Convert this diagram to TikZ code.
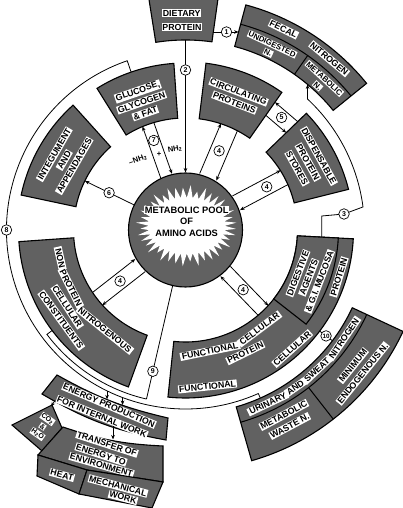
\documentclass[tikz,border=0pt]{standalone}
\usepackage{fontspec}
\setmainfont{Liberation Sans}
\usetikzlibrary{arrows.meta,calc}
\newcommand{\lblfont}{\fontsize{8.8}{9}\selectfont\bfseries}
\newcommand{\lblsmall}{\fontsize{7.8}{8}\selectfont\bfseries}
\newcommand{\lbltiny}{\fontsize{7}{7}\selectfont\bfseries}
\newcommand{\sectorbox}[5][box]{%
  \draw[#1] (#2:#4) arc[start angle=#2,end angle=#3,radius=#4pt] -- (#3:#5) arc[start angle=#3,end angle=#2,radius=#5pt] -- cycle;}
\newcommand{\pairarrows}[4]{%
  \draw[arr] ([shift={(#1+90:#2)}]#1:#3) -- ([shift={(#1+90:#2)}]#1:#4);
  \draw[arr] ([shift={(#1-90:#2)}]#1:#4) -- ([shift={(#1-90:#2)}]#1:#3);}
\begin{document}
\begin{tikzpicture}[x=1pt,y=1pt,
  box/.style={draw=black,line width=1.1pt,fill=black!62},
  divline/.style={draw=black,line width=1pt},
  lbl/.style={fill=white,inner sep=0.9pt,font=\lblfont,text=black},
  wlbl/.style={lbl,inner xsep=1.9pt},
  lbls/.style={fill=white,inner sep=0.8pt,font=\lblsmall,text=black},
  lblt/.style={fill=white,inner sep=0.6pt,font=\lbltiny,text=black},
  num/.style={circle,draw=black,fill=white,line width=0.7pt,inner sep=0pt,minimum size=10.5pt,font=\fontsize{7}{7}\selectfont\bfseries},
  con/.style={line width=0.8pt},
  arr/.style={con,-{Stealth[length=4.5pt,width=3.6pt]}}]
\useasboundingbox (0,0) rectangle (403,508);
\clip (0,0) rectangle (403,508);
\fill[white] (0,0) rectangle (403,508);
\begin{scope}[shift={(185.5,278)}]
% ---- boxes around the pool
\sectorbox{82}{99}{190}{240}
\sectorbox{94}{122}{112}{167}
\sectorbox{55}{83}{112}{168}
\sectorbox{14}{44}{112}{168}
\sectorbox{132}{168}{112}{168}
\sectorbox{184}{250}{112}{167}
\sectorbox{-96}{-3}{112}{168}
\sectorbox{-38}{-3}{112}{153}
% fecal
\sectorbox{39}{75}{190}{233}
\draw[divline] (75:213) arc[start angle=75,end angle=39,radius=213pt];
\draw[divline] (55:190) -- (55:213);
% urinary
\sectorbox{-74}{-25}{184}{240}
\draw[divline] (-74:200) arc[start angle=-74,end angle=-25,radius=200pt];
\draw[divline] (-52:200) -- (-52:240);
% ---- pool
\draw[box] (0,0) circle[radius=57pt];
\fill[white] (39.2,4.2) \foreach \i in {1,...,79}{ -- ({1.2+cos(\i*4.5)*(38+mod(\i,2)*(7+6*abs(sin(\i*53))))},{4.2+sin(\i*4.5)*(28+mod(\i,2)*(7+6*abs(sin(\i*53))))}) } -- cycle;
\node[lbl,font=\fontsize{9.3}{9.5}\selectfont\bfseries] (pool1) at (1.2,20) {METABOLIC POOL};
\node[lbl,font=\fontsize{9.3}{9.5}\selectfont\bfseries] (pool2) at (1.2,8.3) {OF};
\node[lbl,font=\fontsize{9.3}{9.5}\selectfont\bfseries] (pool3) at (1.2,-3.5) {AMINO ACIDS};
% ---- connectors
\draw[con] (109:167) -- (109:179) arc[start angle=109,end angle=294,radius=179pt] -- (294:184);
\draw[con] (-143:167) -- (-143:173.5) arc[start angle=-143,end angle=-103,radius=173.5pt];
\draw[arr] (-116:179) -- ++(0,-8.5);
\draw[arr] (-110.6:179) -- ++(0,-7.5);
\draw[con] (-103:57) -- (-103:173.5);
\draw[arr] (-3:136.5) -- (136.3,14) -- (158.5,16) -- (7.4:179) arc[start angle=7.4,end angle=47,radius=179pt] -- ++(0,14.7);
\draw[arr] (90:190) -- (90:57.5);
\draw[arr] (27.8,198) -- (53.1,198);
\draw[con] (-37:168) -- (-37:184);
\pairarrows{109.5}{6}{57.5}{112}
\pairarrows{67}{9}{57.5}{112}
\pairarrows{28}{8}{57.5}{112}
\pairarrows{218}{8}{57.5}{112}
\pairarrows{-46}{7}{57.5}{112}
\draw[arr] (154:57) -- (154:112);
\draw[arr] (55:140) -- (44:140);
\draw[arr] (44:156) -- (55:156);
% ---- numbers
\node[num] (n1) at (41,198) {1};
\node[num] (n2) at (90:160) {2};
\node[num] (n3) at (158.5,16) {3};
\node[num] (n4a) at (67:86) {4};
\node[num] (n4b) at (28:92) {4};
\node[num] (n4c) at (218:83) {4};
\node[num] (n4d) at (-46:83) {4};
\node[num] (n5) at (49.5:148) {5};
\node[num] (n6) at (154:85) {6};
\node[num] (n7) at (109.5:95) {7};
\node[num] (n8) at (180:179) {8};
\node[num] (n9) at (-103:145) {9};
\node[num,font=\fontsize{6.3}{6.3}\selectfont\bfseries] (n10) at (-37:176) {10};
% ---- NH2 labels
\node[font=\fontsize{7.6}{8}\selectfont\bfseries,rotate=20] (nhm) at (-47.5,70) {–NH\textsubscript{2}};
\node[font=\fontsize{7.6}{8}\selectfont\bfseries] (nhp1) at (-26.5,76) {+};
\node[font=\fontsize{7.6}{8}\selectfont\bfseries,rotate=10] (nhp2) at (-10.5,81) {NH\textsubscript{2}};
% ---- labels
\node[lbl] (diet1) at (91:217) {DIETARY};
\node[lbl] (diet2) at (91:203) {PROTEIN};
\node[lbl,rotate=19] (glu1) at (109:146.5) {GLUCOSE,};
\node[lbl,rotate=19] (glu2) at (109:135) {GLYCOGEN};
\node[lbl,rotate=19] (glu3) at (109:123.5) {\& FAT};
\node[lbl,rotate=-21] (cir1) at (69:148) {CIRCULATING};
\node[lbl,rotate=-21] (cir2) at (69:136.5) {PROTEINS};
\node[lbl,rotate=-61] (dis1) at (29:152.5) {DISPENSABLE};
\node[lbl,rotate=-61] (dis2) at (29:140) {PROTEIN};
\node[lbl,rotate=-61] (dis3) at (29:127.5) {STORES};
\node[lbl,rotate=60] (int1) at (150:151.5) {INTEGUMENT};
\node[lbl,rotate=60] (int2) at (150:140) {AND};
\node[lbl,rotate=60] (int3) at (150:128.5) {APPENDAGES};
\node[wlbl,rotate=-77.3] (np1a) at (192.7:128.5) {NON};
\node[wlbl,rotate=-63.2] (np1b) at (206.8:128.5) {PROTEIN};
\node[wlbl,rotate=-38.9] (np1c) at (231.1:128.5) {NITROGENOUS};
\node[lbl,rotate=-57] (np2) at (213:141) {CELLULAR};
\node[lbl,rotate=-54] (np3) at (216:153.5) {CONSTITUENTS};
\node[wlbl,rotate=11.5] (fun1a) at (-78.5:123.5) {FUNCTIONAL};
\node[wlbl,rotate=36.8] (fun1b) at (-53.2:123.5) {CELLULAR};
\node[lbl,rotate=26] (fun2) at (-64:136.5) {PROTEIN};
\node[lbl,rotate=6] (fun3) at (-82:158) {FUNCTIONAL};
\node[lbl,rotate=42] (fun4) at (-48:159.5) {CELLULAR};
\node[lbl,rotate=73] (fun5) at (-17:160.5) {PROTEIN};
\node[lbl,rotate=69] (dig1) at (-21:120.5) {DIGESTIVE};
\node[lbl,rotate=69] (dig2) at (-21:132) {AGENTS};
\node[lbl,rotate=69] (dig3) at (-21:143.5) {\& G.I. MUCOSA};
\node[lbl,rotate=-26] (fec1) at (64:223.5) {FECAL};
\node[lbl,rotate=-40] (fec2) at (50:223.5) {NITROGEN};
\node[lbls,rotate=-25] (fec3) at (65:205) {UNDIGESTED};
\node[lbls,rotate=-25] (fec4) at (65:195.5) {N.};
\node[lbls,rotate=-42.5] (fec5) at (47.5:205.5) {METABOLIC};
\node[lbls,rotate=-42.5] (fec6) at (47.5:195.5) {N.};
\node[wlbl,rotate=25.4] (uri1a) at (-64.6:192) {URINARY};
\node[wlbl,rotate=34.9] (uri1b) at (-55.1:192) {AND};
\node[wlbl,rotate=43.2] (uri1c) at (-46.8:192) {SWEAT};
\node[wlbl,rotate=55.6] (uri1d) at (-34.4:192) {NITROGEN};
\node[lbl,rotate=28] (uri2) at (-62:209.5) {METABOLIC};
\node[lbl,rotate=28] (uri3) at (-62:222) {WASTE N.};
\node[lbl,rotate=51] (uri4) at (-39:215.5) {MINIMUM};
\node[lbl,rotate=51] (uri5) at (-39:228) {ENDOGENOUS N.};
\end{scope}
% ---- lower left boxes
\draw[box] (57,133) to[bend right=8] (168,90) -- (166,68) to[bend left=10] (42,114) -- cycle;
\node[lbl,rotate=-23] (en1) at (109,102.5) {ENERGY PRODUCTION};
\node[lbl,rotate=-22] (en2) at (102,91) {FOR INTERNAL WORK};
\draw[box] (12,83) -- (52,103) -- (62,80) -- (42,57) -- cycle;
\node[lblt,rotate=-35] (co1) at (47.5,89) {CO\textsubscript{2}};
\node[lblt,rotate=-35] (co2) at (42.5,81.5) {\&};
\node[lblt,rotate=-35] (co3) at (37.5,74) {H\textsubscript{2}O};
\draw[box] (63,81) to[bend right=8] (163,62) -- (163,26) -- (87,38) -- (38,53) -- cycle;
\node[lbl,rotate=-18] (tr1) at (107,64) {TRANSFER OF};
\node[lbl,rotate=-18] (tr2) at (101,53.5) {ENERGY TO};
\node[lbl,rotate=-16] (tr3) at (101.5,43) {ENVIRONMENT};
\draw[box] (38,53) -- (87,38) -- (79,14) -- (37,32) -- cycle;
\node[lbl,rotate=-15] (heat) at (62,33) {HEAT};
\draw[box] (87,38) -- (163,26) -- (152,0) -- (79,14) -- cycle;
\node[lbl,rotate=-15] (mec1) at (118,22) {MECHANICAL};
\node[lbl,rotate=-15] (mec2) at (123,10.5) {WORK};
\draw[arr] (113,81.5) -- (113,68.5);
\draw[arr] (55,107.5) -- (51,101.5);
\end{tikzpicture}
\end{document}
